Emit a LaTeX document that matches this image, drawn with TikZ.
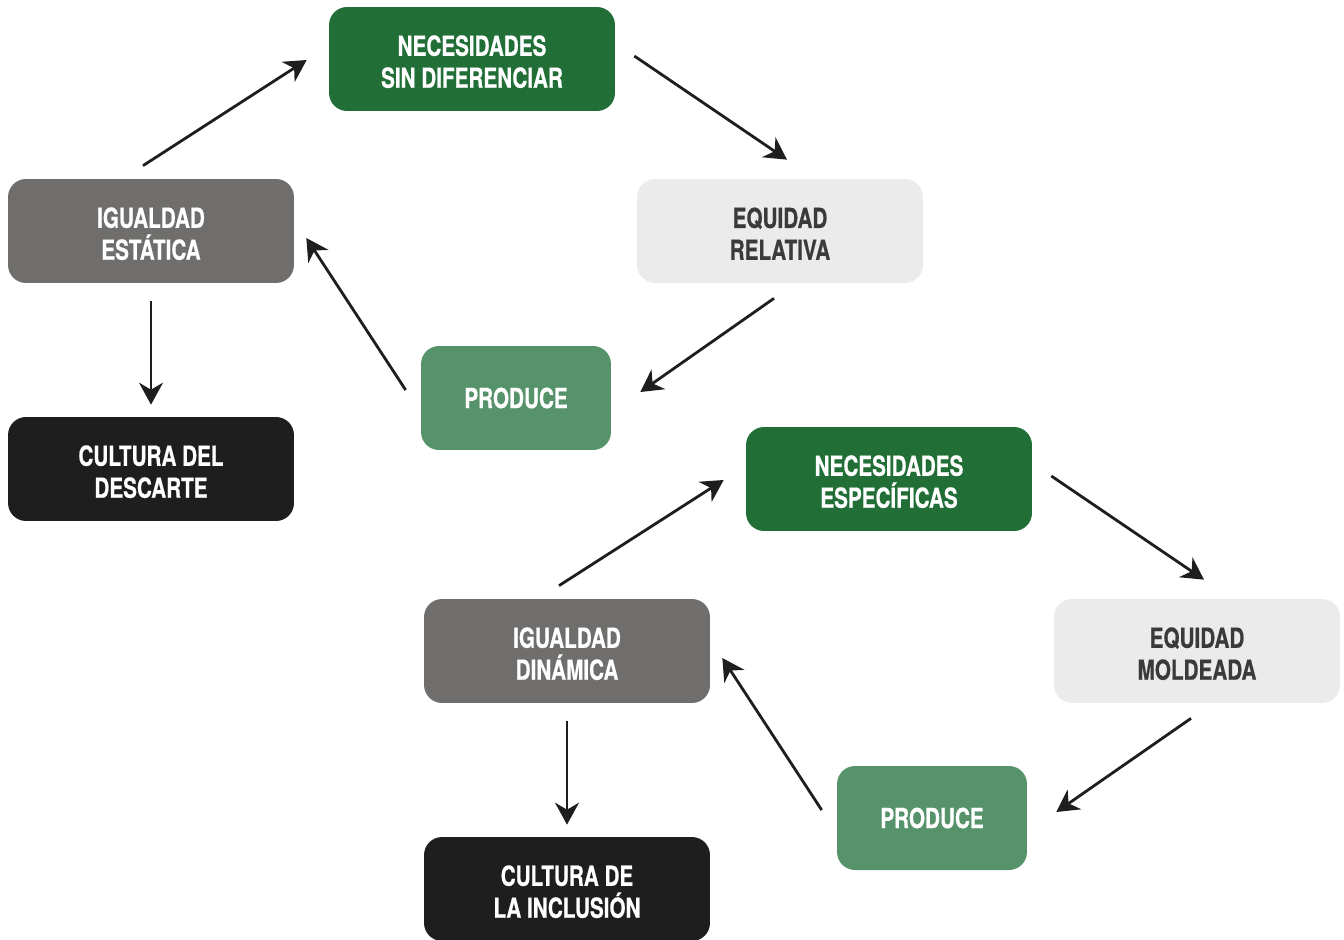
\documentclass[tikz,border=0pt]{standalone}
\usepackage{fontspec}
\setmainfont{TeX Gyre Heros}[FakeStretch=0.75, FakeBold=0.6]
\usetikzlibrary{arrows.meta}

\definecolor{darkgreen}{HTML}{216F37}
\definecolor{lightgreen}{HTML}{57936A}
\definecolor{midgray}{HTML}{6F6E6C}
\definecolor{palegray}{HTML}{EBEBEB}
\definecolor{nearblack}{HTML}{1E1E1E}
\definecolor{labelgray}{HTML}{3A3A3A}

% taller first line, pushes two-line labels down a little
\newcommand{\boxstrut}{\rule{0pt}{14.7pt}}

\tikzset{
    box/.style={rounded corners=0.36cm, minimum width=5.72cm, minimum height=2.08cm,
        align=center, font=\fontsize{15.7}{18.2}\selectfont\bfseries},
    needbox/.style={box, fill=darkgreen, text=white},
    prodbox/.style={box, fill=lightgreen, text=white, minimum width=3.8cm},
    eqbox/.style={box, fill=midgray, text=white},
    equitybox/.style={box, fill=palegray, text=labelgray},
    culturebox/.style={box, fill=nearblack, text=white},
    flow/.style={draw=nearblack, line width=1.6pt, -{Stealth[length=12.5pt, width=13.6pt, inset=4pt]}}
}

\begin{document}
\begin{tikzpicture}[x=0.02cm, y=-0.02cm]
    \useasboundingbox (0,0) rectangle (1344,939);

    % first cycle
    \node[needbox] (nsd) at (472,59) {\boxstrut NECESIDADES\\SIN DIFERENCIAR};
    \node[eqbox] (ie) at (151,231) {\boxstrut IGUALDAD\\ESTÁTICA};
    \node[equitybox] (er) at (780,231) {\boxstrut EQUIDAD\\RELATIVA};
    \node[prodbox] (pa) at (516,398) {PRODUCE};
    \node[culturebox] (cd) at (151,469) {\boxstrut CULTURA DEL\\DESCARTE};

    \draw[flow] ([shift={(-8,-13)}]ie.north) -- ([shift={(-22,1)}]nsd.west);
    \draw[flow] ([shift={(19,-3)}]nsd.east) -- ([shift={(7,-19)}]er.north);
    \draw[flow] ([shift={(-6,15)}]er.south) -- ([shift={(29,-6)}]pa.east);
    \draw[flow] ([shift={(-15,-8)}]pa.west) -- ([shift={(12,7)}]ie.east);
    \draw[flow] ([shift={(0,18)}]ie.south) -- ([shift={(0,-12)}]cd.north);

    % second cycle
    \node[needbox] (ne) at (889,479) {\boxstrut NECESIDADES\\ESPECÍFICAS};
    \node[eqbox] (id) at (567,651) {\boxstrut IGUALDAD\\DINÁMICA};
    \node[equitybox] (em) at (1197,651) {\boxstrut EQUIDAD\\MOLDEADA};
    \node[prodbox] (pb) at (932,818) {PRODUCE};
    \node[culturebox] (ci) at (567,889) {\boxstrut CULTURA DE\\LA INCLUSIÓN};

    \draw[flow] ([shift={(-8,-13)}]id.north) -- ([shift={(-22,1)}]ne.west);
    \draw[flow] ([shift={(19,-3)}]ne.east) -- ([shift={(7,-19)}]em.north);
    \draw[flow] ([shift={(-6,15)}]em.south) -- ([shift={(29,-6)}]pb.east);
    \draw[flow] ([shift={(-15,-8)}]pb.west) -- ([shift={(12,7)}]id.east);
    \draw[flow] ([shift={(0,18)}]id.south) -- ([shift={(0,-12)}]ci.north);
\end{tikzpicture}
\end{document}
